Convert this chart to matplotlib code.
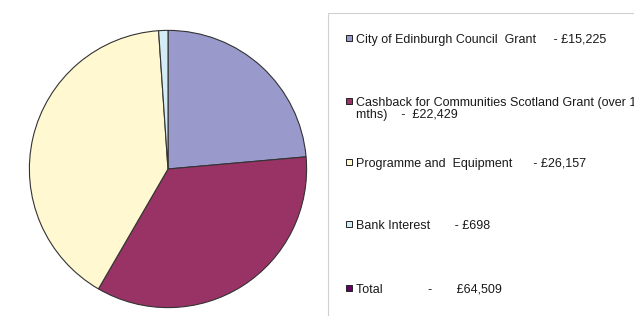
import matplotlib.pyplot as plt
from matplotlib.patches import Rectangle

plt.rcParams['font.family'] = ['Liberation Sans', 'DejaVu Sans']

# pie data
names = ['City of Edinburgh Council Grant', 'Cashback for Communities Scotland Grant',
         'Programme and Equipment', 'Bank Interest']
values = [15225, 22429, 26157, 698]
total = 64509
colors = ['#9999cc', '#993366', '#fff8d0', '#d4ecf6']
total_color = '#660066'

# legend texts as shown in the chart
legend_text = [
    'City of Edinburgh Council  Grant     - £15,225',
    'Cashback for Communities Scotland Grant (over 18\nmths)    -  £22,429',
    'Programme and  Equipment      - £26,157',
    'Bank Interest       - £698',
    'Total             -       £64,509',
]
legend_y = [38, 101, 162, 224, 288]

W, H = 634, 316
fig = plt.figure(figsize=(W / 100, H / 100), dpi=100)

cx, cy, r = 168, 169, 140
ax = fig.add_axes([(cx - r) / W, (H - cy - r) / H, 2 * r / W, 2 * r / H])
ax.pie(values, colors=colors, startangle=90, counterclock=False, radius=1,
       wedgeprops=dict(edgecolor='#333333', linewidth=0.8))
ax.set_xlim(-1.01, 1.01)
ax.set_ylim(-1.01, 1.01)
ax.axis('off')

# legend frame
fig.patches.append(Rectangle((328 / W, -0.1), 0.5, (H - 13) / H + 0.1,
                             transform=fig.transFigure, fill=False,
                             edgecolor='#d0d0d0', linewidth=0.8))

sq = 6
for txt, y, c in zip(legend_text, legend_y, colors + [total_color]):
    fig.patches.append(Rectangle(((349 - sq / 2) / W, (H - y - sq / 2) / H), sq / W, sq / H,
                                 transform=fig.transFigure, facecolor=c,
                                 edgecolor='#222222', linewidth=0.7))
    fig.text(356 / W, (H - y + 4) / H, txt, fontsize=9, color='#1a1a1a',
             va='top', ha='left', linespacing=1.05)

fig.savefig('out.png', dpi=100, facecolor='white')
